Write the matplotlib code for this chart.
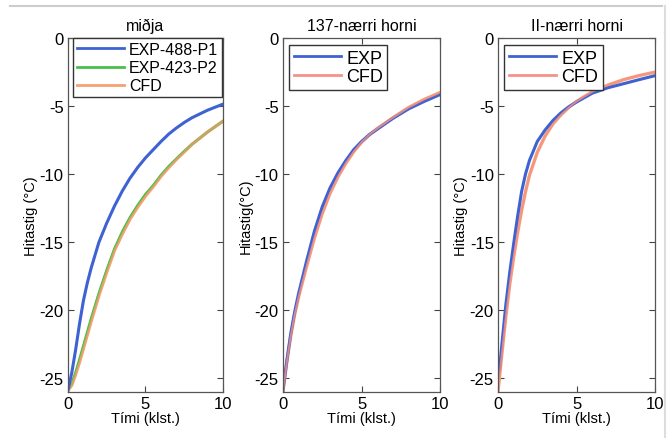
import numpy as np
import matplotlib
matplotlib.use("Agg")
import matplotlib.pyplot as plt
from matplotlib.lines import Line2D

plt.rcParams['font.family'] = ['Liberation Sans', 'DejaVu Sans']
plt.rcParams['axes.unicode_minus'] = False

# miðja
t_mid = [0, 0.25, 0.5, 0.75, 1.0, 1.25, 1.5, 2.0, 2.5, 3.0, 3.5, 4.0, 4.5, 5.0,
         5.5, 6.0, 6.5, 7.0, 7.5, 8.0, 9.0, 10.0]
T_mid_p1 = [-25.9, -24.6, -22.9, -21.0, -19.3, -18.0, -16.9, -15.0, -13.6, -12.35,
            -11.25, -10.3, -9.5, -8.8, -8.2, -7.6, -7.05, -6.6, -6.2, -5.85,
            -5.3, -4.85]
T_mid_p2 = [-25.9, -25.4, -24.5, -23.55, -22.55, -21.55, -20.55, -18.7, -17.0, -15.45,
            -14.2, -13.15, -12.25, -11.45, -10.8, -10.05, -9.4, -8.85, -8.3, -7.8,
            -6.9, -6.1]
T_mid_cfd = [-25.9, -25.5, -24.7, -23.8, -22.8, -21.8, -20.8, -18.9, -17.2, -15.6,
             -14.4, -13.3, -12.4, -11.6, -10.9, -10.15, -9.5, -8.9, -8.35, -7.8,
             -6.9, -6.1]

# 137-nærri horni
t_137 = [0, 0.25, 0.5, 0.75, 1.0, 1.5, 2.0, 2.5, 3.0, 3.5, 4.0, 4.5, 5.0, 5.5,
         6.0, 7.0, 8.0, 9.0, 10.0]
T_137_exp = [-25.9, -23.7, -21.7, -20.1, -18.75, -16.4, -14.2, -12.4, -11.0, -9.9,
             -9.0, -8.2, -7.6, -7.1, -6.7, -5.9, -5.2, -4.65, -4.15]
T_137_cfd = [-26.0, -23.8, -21.9, -20.3, -19.0, -16.8, -14.7, -12.9, -11.4, -10.2,
             -9.2, -8.35, -7.65, -7.1, -6.65, -5.85, -5.1, -4.5, -4.0]

# II-nærri horni
t_ii = [0, 0.1, 0.25, 0.5, 0.75, 1.0, 1.25, 1.5, 1.75, 2.0, 2.5, 3.0, 3.5, 4.0,
        4.5, 5.0, 6.0, 7.0, 8.0, 9.0, 10.0]
T_ii_exp = [-24.8, -24.3, -22.5, -19.6, -17.2, -15.1, -13.1, -11.3, -10.0, -9.0,
            -7.6, -6.75, -6.05, -5.5, -5.05, -4.7, -4.05, -3.65, -3.35, -3.05, -2.76]
T_ii_cfd = [-26.0, -24.9, -23.2, -20.5, -18.1, -16.1, -14.3, -12.7, -11.3, -10.1,
            -8.4, -7.2, -6.3, -5.65, -5.1, -4.65, -3.95, -3.45, -3.05, -2.75, -2.5]

blue = '#3e62d2'
green = '#48c04a'
orange = '#f7a070'
pink = '#f5928a'

fig = plt.figure(figsize=(6.72, 4.39), dpi=100)
fig.patch.set_facecolor('white')

pos = [[0.101, 0.105, 0.231, 0.806],
       [0.421, 0.105, 0.234, 0.806],
       [0.741, 0.105, 0.234, 0.806]]
titles = ['miðja', '137-nærri horni', 'II-nærri horni']
ylabels = ['Hitastig (°C)', 'Hitastig(°C)', 'Hitastig (°C)']

axes = [fig.add_axes(p) for p in pos]

leg_kw = dict(fancybox=False, edgecolor='#333333', framealpha=1,
              handletextpad=0.3, borderpad=0.25)

ax = axes[0]
ax.plot(t_mid, T_mid_cfd, color=orange, lw=2.4)
ax.plot(t_mid, T_mid_p2, color=green, lw=1.6)
ax.plot(t_mid, T_mid_cfd, color=orange, lw=1.4, alpha=0.7)
ax.plot(t_mid, T_mid_p1, color=blue, lw=2.2)
handles = [Line2D([], [], color=blue, lw=2), Line2D([], [], color=green, lw=2),
           Line2D([], [], color=orange, lw=2)]
ax.legend(handles, ['EXP-488-P1', 'EXP-423-P2', 'CFD'], loc='upper left',
          bbox_to_anchor=(0.03, 1.0), borderaxespad=0, fontsize=11.5,
          handlelength=3.0, labelspacing=0.2, **leg_kw)

ax = axes[1]
ax.plot(t_137, T_137_cfd, color=orange, lw=2.4)
ax.plot(t_137, T_137_exp, color=blue, lw=2.2)
ax.plot(t_137, T_137_cfd, color=pink, lw=1.4, alpha=0.8)
handles = [Line2D([], [], color=blue, lw=2), Line2D([], [], color=pink, lw=2)]
ax.legend(handles, ['EXP', 'CFD'], loc='upper left', bbox_to_anchor=(0.04, 0.98),
          borderaxespad=0, fontsize=13, handlelength=2.6, labelspacing=0.1,
          **leg_kw)

ax = axes[2]
ax.plot(t_ii, T_ii_cfd, color=orange, lw=2.4)
ax.plot(t_ii, T_ii_exp, color=blue, lw=2.2)
ax.plot(t_ii, T_ii_cfd, color=pink, lw=1.4, alpha=0.8)
handles = [Line2D([], [], color=blue, lw=2), Line2D([], [], color=pink, lw=2)]
ax.legend(handles, ['EXP', 'CFD'], loc='upper left', bbox_to_anchor=(0.04, 0.98),
          borderaxespad=0, fontsize=13, handlelength=2.6, labelspacing=0.1,
          **leg_kw)

for ax, title, yl in zip(axes, titles, ylabels):
    ax.set_xlim(0, 10)
    ax.set_ylim(-26, 0)
    ax.set_xticks([0, 5, 10])
    ax.set_yticks([0, -5, -10, -15, -20, -25])
    ax.tick_params(direction='in', top=True, right=True, labelsize=12,
                   length=4, width=0.8, color='#444444', pad=3)
    for s in ax.spines.values():
        s.set_color('#555555')
        s.set_linewidth(0.9)
    ax.set_title(title, fontsize=11.5, pad=6)
    ax.set_xlabel('Tími (klst.)', fontsize=10.5, labelpad=0)
    ax.set_ylabel(yl, fontsize=10.5, labelpad=1)

# faint scan border
fig.add_artist(Line2D([0.015, 0.985], [0.985, 0.985], color='#cccccc', lw=1.5))
fig.add_artist(Line2D([0.99, 0.99], [0.0, 0.985], color='#dddddd', lw=1.5))

fig.savefig('out.png', dpi=100)
